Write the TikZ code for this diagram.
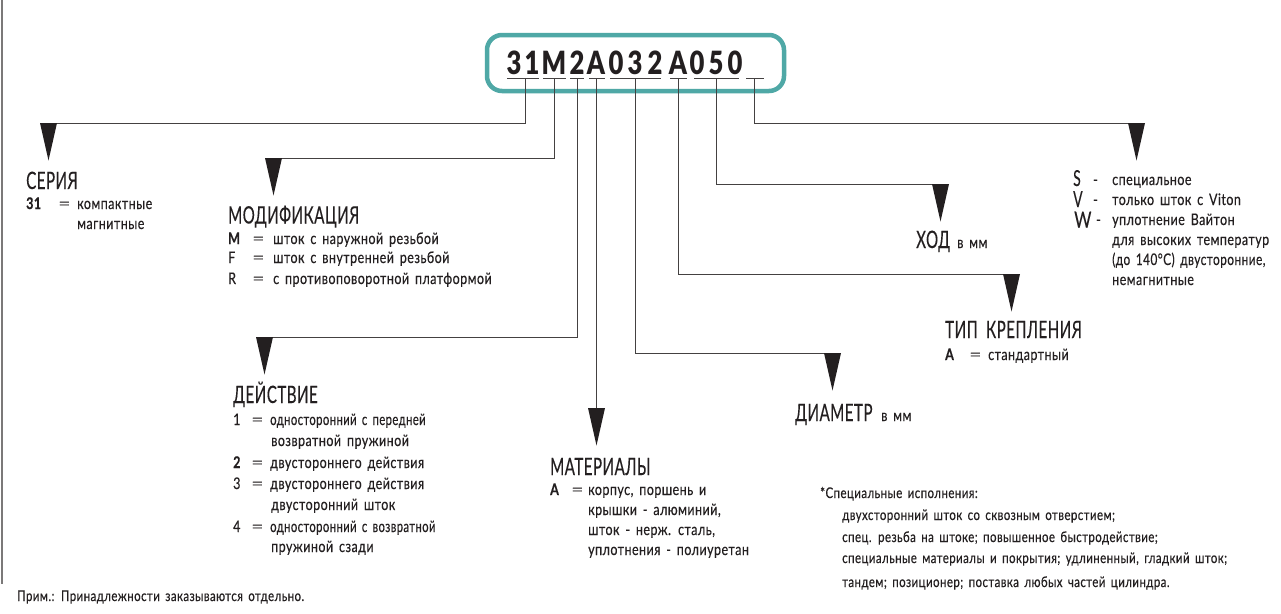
\documentclass[tikz,border=0pt]{standalone}
\usepackage{fontspec}
\setmainfont[FakeStretch=0.78,LetterSpace=3,WordSpace=1.6,FakeBold=0.25]{Lato}
\newfontfamily\headfont[FakeStretch=0.63,LetterSpace=2,WordSpace=1.9,FakeBold=0.2]{Lato}
\newfontfamily\codefont[FakeStretch=0.8]{Lato Black}
\newcommand{\fbody}{\fontsize{16}{18}\selectfont}
\newcommand{\fhead}{\headfont\fontsize{24}{26}\selectfont}
\newcommand{\fnote}{\fontsize{14.7}{17}\selectfont}
\newcommand{\sq}[2]{\scalebox{#1}[1]{#2}}
\newcommand{\eqs}{\scalebox{1.7}[1]{=}}
\definecolor{ink}{HTML}{231F20}
\definecolor{teal2}{HTML}{4FA8A6}
\tikzset{
  lab/.style={anchor=base west,inner sep=0pt,text=ink,font=\fbody},
  head/.style={lab,font=\fhead},
  note/.style={lab,font=\fnote},
  key/.style={lab,font=\fbody\bfseries},
  eq/.style={lab,font=\fbody,text=ink!70},
  big/.style={lab,font=\headfont\fontsize{22}{24}\selectfont},
  code/.style={anchor=base,inner sep=0pt,text=ink,font=\codefont\fontsize{32}{34}\selectfont},
  uline/.style={inner sep=0pt,minimum height=1pt,fill=ink!85,draw=none},
  conn/.style={draw=ink!85,line width=1pt},
  head tri/.style={fill=ink,draw=none}
}
\newcommand{\tri}[1]{\fill[head tri] (#1) ++(-8.5,0) -- ++(17,0) -- ++(-8.5,37.5) -- cycle;}
\begin{document}
\begin{tikzpicture}[x=1pt,y=-1pt]
\useasboundingbox (0,0) rectangle (1281,613);
\fill[white] (0,0) rectangle (1281,613);
% left border
\coordinate (bt) at (2,0); \coordinate (bb) at (2,584);
\draw[draw=ink!60,line width=1.8pt] (bt) -- (bb);
% code box
\draw[teal2,line width=4.5pt,rounded corners=15pt] (487,35) rectangle (784,91);
\node[code] (d1) at (514,74) {3};
\node[code] (d2) at (532,74) {1};
\node[code] (d3) at (554,74) {M};
\node[code] (d4) at (577,74) {2};
\node[code] (d5) at (596,74) {A};
\node[code] (d6) at (616,74) {0};
\node[code] (d7) at (635,74) {3};
\node[code] (d8) at (655,74) {2};
\node[code] (d9) at (678,74) {A};
\node[code] (d10) at (697,74) {0};
\node[code] (d11) at (716,74) {5};
\node[code] (d12) at (735,74) {0};
% underlines
\node[uline,minimum width=32pt] (u1) at (523,78.5) {};
\node[uline,minimum width=23pt] (u2) at (554.5,78.5) {};
\node[uline,minimum width=14pt] (u3) at (577,78.5) {};
\node[uline,minimum width=16pt] (u4) at (596.5,78.5) {};
\node[uline,minimum width=51pt] (u5) at (635.5,78.5) {};
\node[uline,minimum width=17pt] (u6) at (678,78.5) {};
\node[uline,minimum width=45pt] (u7) at (716,78.5) {};
\node[uline,minimum width=18pt] (u8) at (754.5,78.5) {};
% arrow head positions
\coordinate (t1) at (48.5,123);
\coordinate (t2) at (273.5,158);
\coordinate (t3) at (264.5,337);
\coordinate (t4) at (596.5,408);
\coordinate (t5) at (832.5,353);
\coordinate (t6) at (1011.5,274);
\coordinate (t7) at (940.5,184);
\coordinate (t8) at (1136.5,123);
% connectors
\draw[conn] ([xshift=2pt]u1.south) |- (t1);
\draw[conn] (u2.south) |- (t2);
\draw[conn] (u3.south) |- (t3);
\draw[conn] (u4.south) -- (t4);
\draw[conn] (u5.south) |- (t5);
\draw[conn] (u6.south) |- (t6);
\draw[conn] (u7.south) |- (t7);
\draw[conn] (u8.south) |- (t8);
\tri{t1}\tri{t2}\tri{t3}\tri{t4}\tri{t5}\tri{t6}\tri{t7}\tri{t8}
% series
\node[head] (h1) at (26,189) {СЕРИЯ};
\node[key] (k11) at (26,209) {31};
\node[eq] (e11) at (58,209) {\eqs};
\node[lab] (l11) at (77,209) {компактные};
\node[lab] (l12) at (77,229) {магнитные};
% modification
\node[head] (h2) at (228,223.5) {МОДИФИКАЦИЯ};
\node[key] (k21) at (228,244) {M};
\node[eq] (e21) at (252,244) {\eqs};
\node[lab] (l21) at (273,244) {шток с наружной резьбой};
\node[lab] (k22) at (228,263) {F};
\node[eq] (e22) at (252,263) {\eqs};
\node[lab] (l22) at (273,263) {шток с внутренней резьбой};
\node[lab] (k23) at (228,284) {R};
\node[eq] (e23) at (252,284) {\eqs};
\node[lab] (l23) at (273,284) {с противоповоротной платформой};
% action
\node[head] (h3) at (233,403) {ДЕЙСТВИЕ};
\node[lab] (k31) at (233,425) {1};
\node[eq] (e31) at (251,425) {\eqs};
\node[lab] (l31) at (270,425) {\sq{.9}{односторонний с передней}};
\node[lab] (l32) at (271,446) {возвратной пружиной};
\node[key] (k33) at (233,468) {2};
\node[eq] (e33) at (251,468) {\eqs};
\node[lab] (l33) at (270,468) {двустороннего действия};
\node[lab] (k34) at (233,489) {3};
\node[eq] (e34) at (251,489) {\eqs};
\node[lab] (l34) at (270,489) {двустороннего действия};
\node[lab] (l35) at (271,510) {двусторонний шток};
\node[lab] (k36) at (233,532) {4};
\node[eq] (e36) at (251,532) {\eqs};
\node[lab] (l36) at (270,532) {\sq{.9}{односторонний с возвратной}};
\node[lab] (l37) at (271,552) {пружиной сзади};
% materials
\node[head] (h4) at (550,475) {МАТЕРИАЛЫ};
\node[key] (k41) at (550,495) {A};
\node[eq] (e41) at (571,495) {\eqs};
\node[lab] (l41) at (588,495) {корпус, поршень и};
\node[lab] (l42) at (588,515) {крышки - алюминий,};
\node[lab] (l43) at (588,535) {шток - нерж. сталь,};
\node[lab] (l44) at (588,555) {уплотнения - полиуретан};
% diameter
\node[head] (h5) at (795,421) {ДИАМЕТР};
\node[lab] (m5) at (881,421) {в мм};
% fastening
\node[head] (h6) at (945,338) {ТИП КРЕПЛЕНИЯ};
\node[key] (k61) at (945,360) {A};
\node[eq] (e61) at (969,360) {\eqs};
\node[lab] (l61) at (988,360) {стандартный};
% stroke
\node[head] (h7) at (916,248) {ХОД};
\node[lab] (m7) at (957,248) {в мм};
% seal
\node[big] (k81) at (1073,186) {S};
\node[big] (k82) at (1073,207) {V};
\node[big] (k83) at (1074,227.5) {\sq{1.2}{W}};
\node[lab] (e81) at (1093,185) {-};
\node[lab] (e82) at (1093,205) {-};
\node[lab] (e83) at (1096,225) {-};
\node[lab] (l81) at (1112,185) {специальное};
\node[lab] (l82) at (1112,205) {только шток с Viton};
\node[lab] (l83) at (1112,225) {уплотнение Вайтон};
\node[lab] (l84) at (1112,245) {для высоких температур};
\node[lab] (l85) at (1112,265) {\sq{.95}{(до 140°C) двусторонние,}};
\node[lab] (l86) at (1112,285) {немагнитные};
% special versions
\node[note] (n0) at (820,498) {*Специальные исполнения:};
\node[note] (n1) at (842,520) {двухсторонний шток со сквозным отверстием;};
\node[note] (n2) at (842,542) {спец. резьба на штоке; повышенное быстродействие;};
\node[note] (n3) at (842,563) {специальные материалы и покрытия; удлиненный, гладкий шток;};
\node[note] (n4) at (842,587) {тандем; позиционер; поставка любых частей цилиндра.};
% footnote
\node[note] (f) at (17,601) {Прим.: Принадлежности заказываются отдельно.};
\end{tikzpicture}
\end{document}
